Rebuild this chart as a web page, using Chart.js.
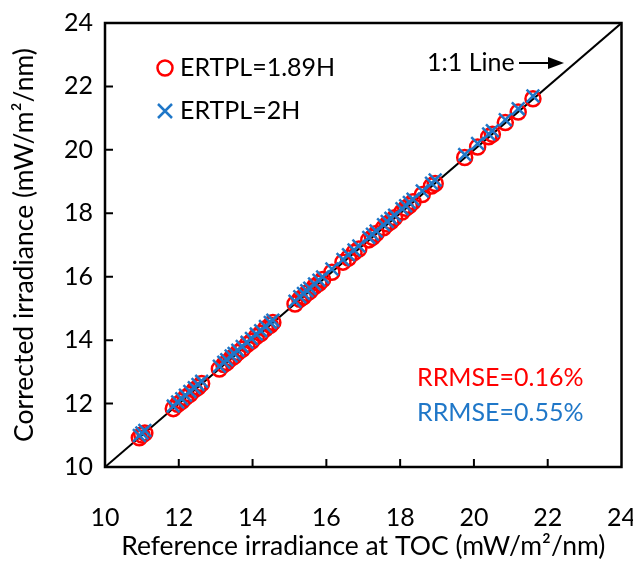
<!DOCTYPE html>
<html>
<head>
<meta charset="utf-8">
<script src="https://cdn.jsdelivr.net/npm/chart.js@4"></script>
<style>
  html, body { margin: 0; padding: 0; background: #fff; }
  #wrap { width: 633px; height: 562px; }
</style>
</head>
<body>
<div id="wrap"><canvas id="scatter-chart" width="633" height="562"></canvas></div>
<script>
const refToc = [10.93, 11.0, 11.08, 11.85, 11.97, 12.08, 12.18, 12.3, 12.42, 12.52, 12.62,
  13.1, 13.22, 13.3, 13.42, 13.5, 13.6, 13.72, 13.85, 13.97, 14.1, 14.22, 14.35, 14.48, 14.55,
  15.15, 15.28, 15.38, 15.47, 15.55, 15.68, 15.8, 15.9, 16.15, 16.45, 16.6, 16.75, 16.88,
  17.15, 17.25, 17.35, 17.55, 17.65, 17.75, 17.85, 18.05, 18.15, 18.25, 18.35, 18.6, 18.85, 18.95,
  19.75, 20.1, 20.4, 20.5, 20.85, 21.2, 21.6]
const corr189 = [10.92, 11.01, 11.07, 11.84, 11.98, 12.07, 12.19, 12.29, 12.43, 12.51, 12.63,
  13.09, 13.23, 13.29, 13.43, 13.49, 13.61, 13.71, 13.86, 13.96, 14.11, 14.21, 14.36, 14.47, 14.56,
  15.14, 15.29, 15.37, 15.48, 15.54, 15.69, 15.79, 15.91, 16.14, 16.46, 16.59, 16.76, 16.87,
  17.16, 17.24, 17.36, 17.54, 17.66, 17.74, 17.86, 18.04, 18.16, 18.24, 18.36, 18.59, 18.86, 18.94,
  19.76, 20.09, 20.41, 20.49, 20.86, 21.19, 21.61]
const corr2 = [10.99, 11.07, 11.15, 11.92, 12.05, 12.15, 12.26, 12.38, 12.5, 12.6, 12.7,
  13.18, 13.3, 13.38, 13.5, 13.58, 13.68, 13.8, 13.93, 14.05, 14.19, 14.3, 14.43, 14.56, 14.63,
  15.23, 15.37, 15.47, 15.56, 15.64, 15.77, 15.89, 15.99, 16.24, 16.54, 16.69, 16.84, 16.97,
  17.24, 17.34, 17.44, 17.64, 17.74, 17.84, 17.94, 18.14, 18.24, 18.34, 18.44, 18.7, 18.95, 19.05,
  19.85, 20.2, 20.5, 20.6, 20.95, 21.3, 21.7]
const oneToOne = [10, 24]
const seriesNames = ['ERTPL=1.89H', 'ERTPL=2H']
const rrmseLabels = ['RRMSE=0.16%', 'RRMSE=0.55%']
const axisMin = 10, axisMax = 24, tickStep = 2

const RED = '#FF0000'
const BLUE = '#1F77C8'
const FONT = 'Lato, "Open Sans", sans-serif'

const ctx = document.getElementById('scatter-chart').getContext('2d')

// frame, inside ticks, legend and text annotations
const decorations = {
  id: 'decorations',
  afterDraw(chart) {
    const { ctx, chartArea: a, scales: { x, y } } = chart
    ctx.save()
    ctx.strokeStyle = '#000'
    ctx.lineWidth = 2.5
    ctx.strokeRect(a.left, a.top, a.right - a.left, a.bottom - a.top)

    ctx.lineWidth = 2
    ctx.beginPath()
    for (let v = axisMin + tickStep; v < axisMax; v += tickStep) {
      const px = x.getPixelForValue(v)
      ctx.moveTo(px, a.bottom); ctx.lineTo(px, a.bottom - 8)
      const py = y.getPixelForValue(v)
      ctx.moveTo(a.left, py); ctx.lineTo(a.left + 8, py)
    }
    ctx.stroke()

    // legend
    ctx.font = '25px ' + FONT
    ctx.textBaseline = 'middle'
    ctx.textAlign = 'left'
    ctx.fillStyle = '#000'
    const lx = a.left + 60
    ctx.strokeStyle = RED
    ctx.lineWidth = 2.5
    ctx.beginPath(); ctx.arc(lx, a.top + 45, 7.5, 0, Math.PI * 2); ctx.stroke()
    ctx.fillText(seriesNames[0], lx + 15, a.top + 45)
    ctx.strokeStyle = BLUE
    ctx.beginPath()
    ctx.moveTo(lx - 7, a.top + 81); ctx.lineTo(lx + 7, a.top + 95)
    ctx.moveTo(lx + 7, a.top + 81); ctx.lineTo(lx - 7, a.top + 95)
    ctx.stroke()
    ctx.fillText(seriesNames[1], lx + 15, a.top + 88)

    // 1:1 line label with arrow
    ctx.fillText('1:1 Line', a.left + 322, a.top + 40)
    ctx.strokeStyle = '#000'
    ctx.lineWidth = 2
    ctx.beginPath(); ctx.moveTo(a.left + 414, a.top + 40); ctx.lineTo(a.left + 445, a.top + 40); ctx.stroke()
    ctx.beginPath()
    ctx.moveTo(a.left + 459, a.top + 40)
    ctx.lineTo(a.left + 443, a.top + 34)
    ctx.lineTo(a.left + 443, a.top + 46)
    ctx.closePath(); ctx.fill()

    // RRMSE
    ctx.textAlign = 'right'
    ctx.fillStyle = RED
    ctx.fillText(rrmseLabels[0], a.right - 38, a.top + 355)
    ctx.fillStyle = BLUE
    ctx.fillText(rrmseLabels[1], a.right - 38, a.top + 390)
    ctx.restore()
  }
}

const tickFont = { family: FONT, size: 25 }
const titleFont = { family: FONT, size: 26.5 }

new Chart(ctx, {
  type: 'scatter',
  data: {
    datasets: [
      {
        label: '1:1',
        type: 'line',
        data: oneToOne.map(v => ({ x: v, y: v })),
        borderColor: '#000',
        borderWidth: 2,
        pointRadius: 0,
        order: 3
      },
      {
        label: seriesNames[0],
        data: refToc.map((v, i) => ({ x: v, y: corr189[i] })),
        pointStyle: 'circle',
        pointRadius: 7.5,
        borderColor: RED,
        backgroundColor: 'rgba(0,0,0,0)',
        borderWidth: 2.5,
        order: 2
      },
      {
        label: seriesNames[1],
        data: refToc.map((v, i) => ({ x: v, y: corr2[i] })),
        pointStyle: 'crossRot',
        pointRadius: 9,
        borderColor: BLUE,
        borderWidth: 2.5,
        order: 1
      }
    ]
  },
  options: {
    responsive: false,
    animation: false,
    layout: { padding: { top: 23, right: 10, left: 0, bottom: 0 } },
    plugins: { legend: { display: false }, tooltip: { enabled: false } },
    scales: {
      x: {
        type: 'linear',
        min: axisMin,
        max: axisMax,
        ticks: { stepSize: tickStep, color: '#000', padding: 36, font: tickFont },
        grid: { display: false, drawTicks: false },
        border: { display: false },
        title: { display: true, text: 'Reference irradiance at TOC (mW/m\u00B2/nm)', color: '#000', padding: { top: 0, bottom: 0 }, font: titleFont },
        afterFit: s => { s.height = 95; s.paddingLeft = 0; s.paddingRight = 0 }
      },
      y: {
        type: 'linear',
        min: axisMin,
        max: axisMax,
        ticks: { stepSize: tickStep, color: '#000', padding: 12, font: tickFont },
        grid: { display: false, drawTicks: false },
        border: { display: false },
        title: { display: true, text: 'Corrected irradiance (mW/m\u00B2/nm)', color: '#000', padding: { top: 9, bottom: 4 }, font: titleFont },
        afterFit: s => { s.width = 105; s.paddingTop = 0; s.paddingBottom = 0 }
      }
    }
  },
  plugins: [decorations]
})
</script>
</body>
</html>
